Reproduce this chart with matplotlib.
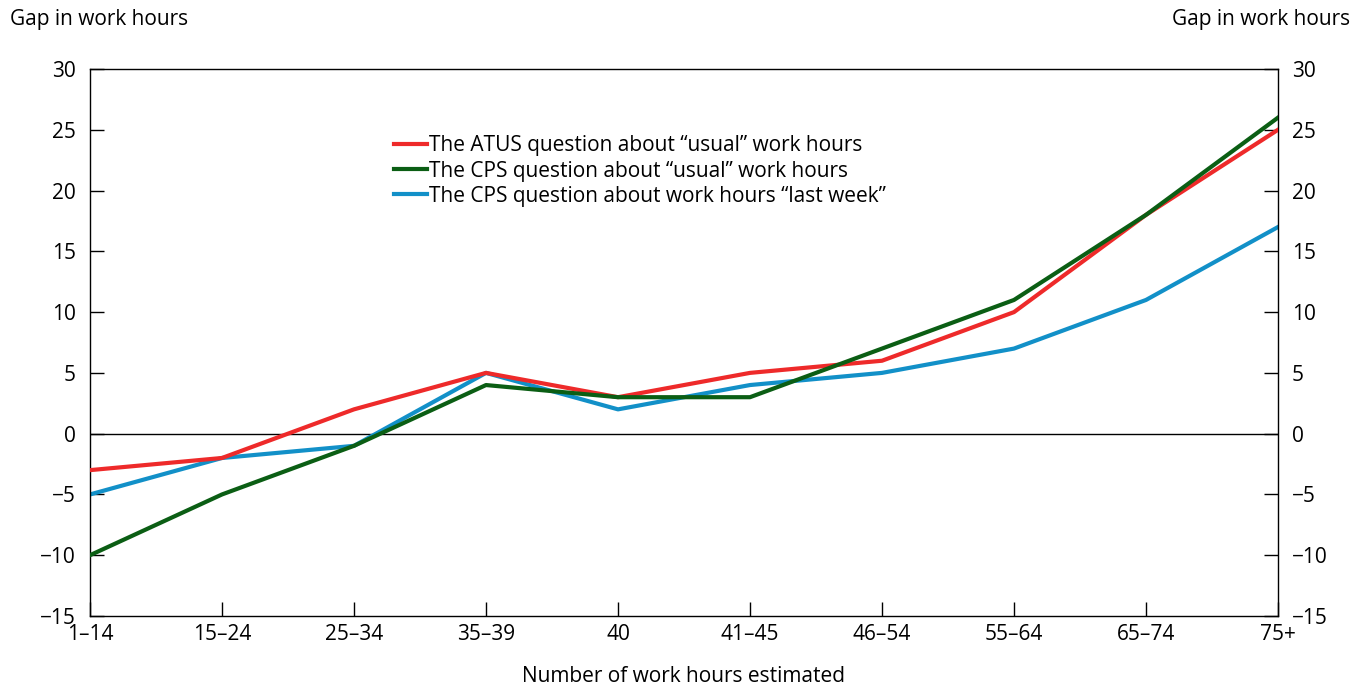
import matplotlib
matplotlib.use("Agg")
import matplotlib.pyplot as plt

plt.rcParams['font.family'] = ['Open Sans', 'DejaVu Sans']

categories = ["1–14", "15–24", "25–34", "35–39", "40", "41–45", "46–54", "55–64", "65–74", "75+"]
atus_usual = [-3, -2, 2, 5, 3, 5, 6, 10, 18, 25]
cps_usual = [-10, -5, -1, 4, 3, 3, 7, 11, 18, 26]
cps_last_week = [-5, -2, -1, 5, 2, 4, 5, 7, 11, 17]
yticks = [-15, -10, -5, 0, 5, 10, 15, 20, 25, 30]
ytick_labels = ["−15", "−10", "−5", "0", "5", "10", "15", "20", "25", "30"]

FS = 15

fig = plt.figure(figsize=(13.66, 6.87), dpi=100)
ax = fig.add_axes([90/1366, 1-616/687, (1278-90)/1366, (616-69)/687])
x = list(range(len(categories)))

ax.axhline(0, color='black', lw=1.0, zorder=1)
l1, = ax.plot(x, atus_usual, color='#ee2a2a', lw=3, label='The ATUS question about “usual” work hours', zorder=3)
l2, = ax.plot(x, cps_usual, color='#0b5e14', lw=3, label='The CPS question about “usual” work hours', zorder=3)
l3, = ax.plot(x, cps_last_week, color='#1290c8', lw=3, label='The CPS question about work hours “last week”', zorder=2)

ax.set_xlim(0, len(categories) - 1)
ax.set_ylim(-15, 30)
ax.set_xticks(x)
ax.set_xticklabels(categories)
ax.set_yticks(yticks)
ax.set_yticklabels(ytick_labels)
ax.tick_params(axis='both', direction='in', length=10, width=1, labelsize=FS, colors='black')
ax.tick_params(axis='x', pad=6)
ax.tick_params(axis='y', pad=10)
ax.tick_params(axis='y', which='both', right=True, labelright=True)
for s in ax.spines.values():
    s.set_linewidth(1.0)

ax.set_xlabel('Number of work hours estimated', fontsize=FS, labelpad=15)
fig.text(10/1366, 1-20/687, 'Gap in work hours', fontsize=FS, ha='left', va='center')
fig.text(1350/1366, 1-20/687, 'Gap in work hours', fontsize=FS, ha='right', va='center')

leg = ax.legend(handles=[l1, l2, l3], loc='upper left', bbox_to_anchor=((386-90)/1188, (616-127)/547),
                frameon=False, fontsize=FS, handlelength=1.55, handletextpad=0.1,
                labelspacing=0.2, borderaxespad=0)

fig.savefig('out.png', dpi=100)
